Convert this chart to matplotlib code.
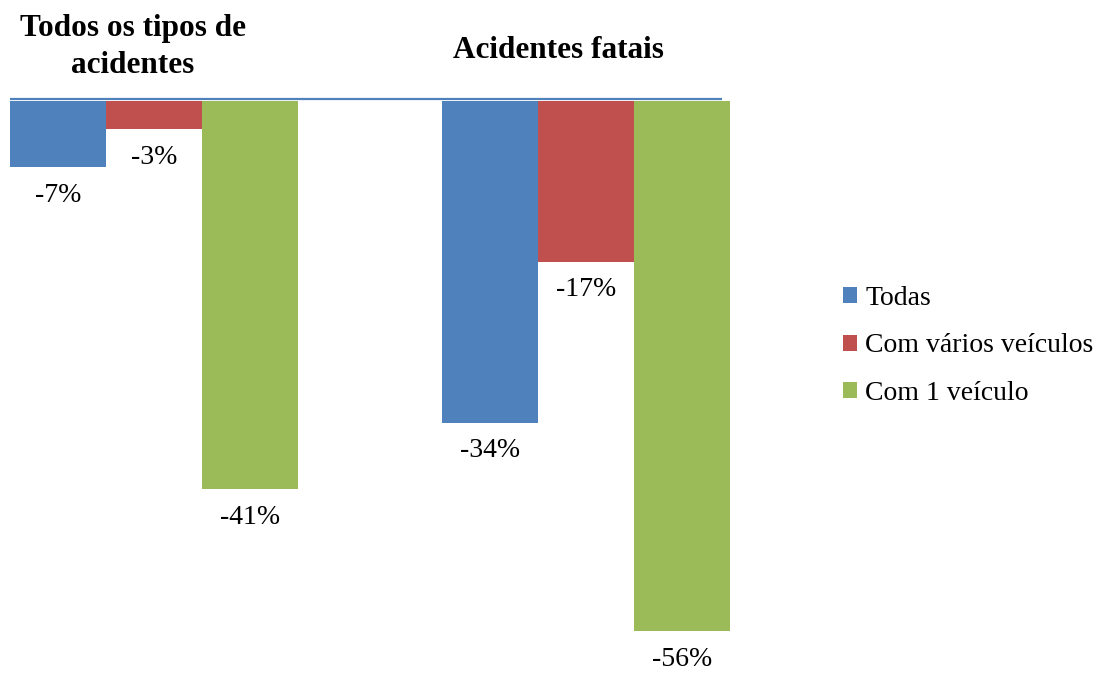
import matplotlib
matplotlib.use("Agg")
import matplotlib.pyplot as plt
from matplotlib.patches import Patch

categories = ["Todos os tipos de\nacidentes", "Acidentes fatais"]
series_names = ["Todas", "Com vários veículos", "Com 1 veículo"]
todas = [-7, -34]
varios = [-3, -17]
um_veiculo = [-41, -56]
series_values = [todas, varios, um_veiculo]
colors = ["#4F81BD", "#C0504D", "#9BBB59"]

W, H = 1105, 673
fig = plt.figure(figsize=(W / 100, H / 100), dpi=100)
plt.rcParams['font.family'] = ['Liberation Serif', 'DejaVu Serif']

# axes: x from px 10 to 730, y top (value 0) at px 101, bottom at figure bottom
ppu = 530 / 56
ax = fig.add_axes([10 / W, 0, 720 / W, 1 - 101 / H])
ax.set_xlim(-1 / 3, 1 + 1 / 3)
ax.set_ylim(-572 / ppu, 0)
ax.axis("off")

w = 96 / 432
for i, (vals, c) in enumerate(zip(series_values, colors)):
    xs = [k + (i - 1) * w for k in range(len(categories))]
    ax.bar(xs, vals, width=w, color=c, align="center", zorder=2)
    for x, v in zip(xs, vals):
        ax.annotate(f"{v}%", xy=(x, v), xytext=(0, -28), textcoords="offset pixels",
                    ha="center", va="center", fontsize=20, color="black")

# horizontal axis line
ax.plot([-1 / 3, 1 + 1 / 3 - 8 / 432], [0.2, 0.2], color="#4F81BD", lw=1.6,
        clip_on=False, zorder=3, solid_capstyle="butt")

# category titles at top
title_pos = [(133, 47), (558, 50)]
for (px, py), lab in zip(title_pos, categories):
    fig.text(px / W, 1 - py / H, lab, ha="center", va="center", fontsize=22.5,
             fontweight="bold", linespacing=1.38)

handles = [Patch(facecolor=c, edgecolor="none") for c in colors]
fig.legend(handles, series_names, loc="center left",
           bbox_to_anchor=(832 / W, 1 - 346 / H), frameon=False,
           fontsize=20, handlelength=0.5, handleheight=0.5,
           handletextpad=0.3, labelspacing=0.82, borderaxespad=0)

fig.savefig("out.png", dpi=100)
